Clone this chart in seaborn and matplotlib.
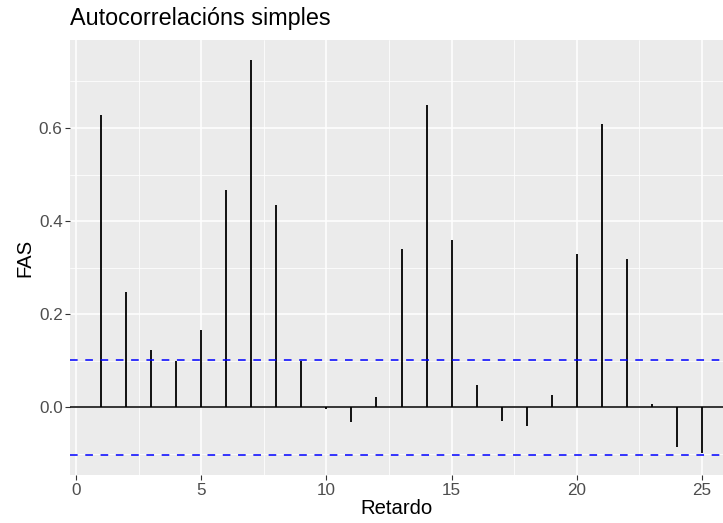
import numpy as np
import pandas as pd
import seaborn as sns
import matplotlib
matplotlib.use("Agg")
import matplotlib.pyplot as plt
from matplotlib.ticker import MultipleLocator

lags = list(range(1, 26))
fas = [0.627, 0.247, 0.123, 0.100, 0.166, 0.467, 0.746, 0.434, 0.100, -0.004,
       -0.032, 0.022, 0.340, 0.649, 0.359, 0.047, -0.029, -0.039, 0.026, 0.330,
       0.608, 0.318, 0.008, -0.085, -0.098]
limite = 0.1026

df = pd.DataFrame({'Retardo': lags, 'FAS': fas})

sns.set_theme(style='darkgrid', rc={
    'axes.facecolor': '#EBEBEB',
    'grid.color': 'white',
    'axes.edgecolor': 'none',
    'xtick.bottom': True,
    'ytick.left': True,
})
plt.rcParams['font.family'] = ['Liberation Sans', 'DejaVu Sans']

fig = plt.figure(figsize=(7.23, 5.23), dpi=100)
ax = fig.add_axes([0.0975, 0.092, 0.9025, 0.8315])

ax.xaxis.set_major_locator(MultipleLocator(5))
ax.xaxis.set_minor_locator(MultipleLocator(2.5))
ax.yaxis.set_major_locator(MultipleLocator(0.2))
ax.yaxis.set_minor_locator(MultipleLocator(0.1))
ax.grid(which='major', color='white', linewidth=1.1)
ax.grid(which='minor', color='white', linewidth=0.55)

ax.axhline(0, color='black', linewidth=1.1, zorder=3)
ax.vlines(df['Retardo'], 0, df['FAS'], color='black', linewidth=1.3, zorder=3)
for yv in (limite, -limite):
    ax.axhline(yv, color='blue', linestyle=(0, (5, 5)), linewidth=1.1, zorder=4)

ax.set_xlim(-0.22, 25.84)
ax.set_ylim(-0.145, 0.789)
ax.set_xticks([0, 5, 10, 15, 20, 25])
ax.set_xticklabels(['0', '5', '10', '15', '20', '25'])
ax.set_yticks([0.0, 0.2, 0.4, 0.6])
ax.set_yticklabels(['0.0', '0.2', '0.4', '0.6'])
ax.tick_params(axis='both', which='major', length=3.6, width=0.8, color='#333333',
               labelcolor='#4D4D4D', labelsize=12.3, pad=2)
ax.tick_params(axis='both', which='minor', length=0)

ax.set_xlabel('Retardo', fontsize=14.6, color='black', labelpad=1)
ax.set_ylabel('FAS', fontsize=14.6, color='black', labelpad=3)
ax.set_title('Autocorrelacións simples', fontsize=16.8, loc='left', pad=10.5, color='black')

fig.savefig('out.png', dpi=100)
